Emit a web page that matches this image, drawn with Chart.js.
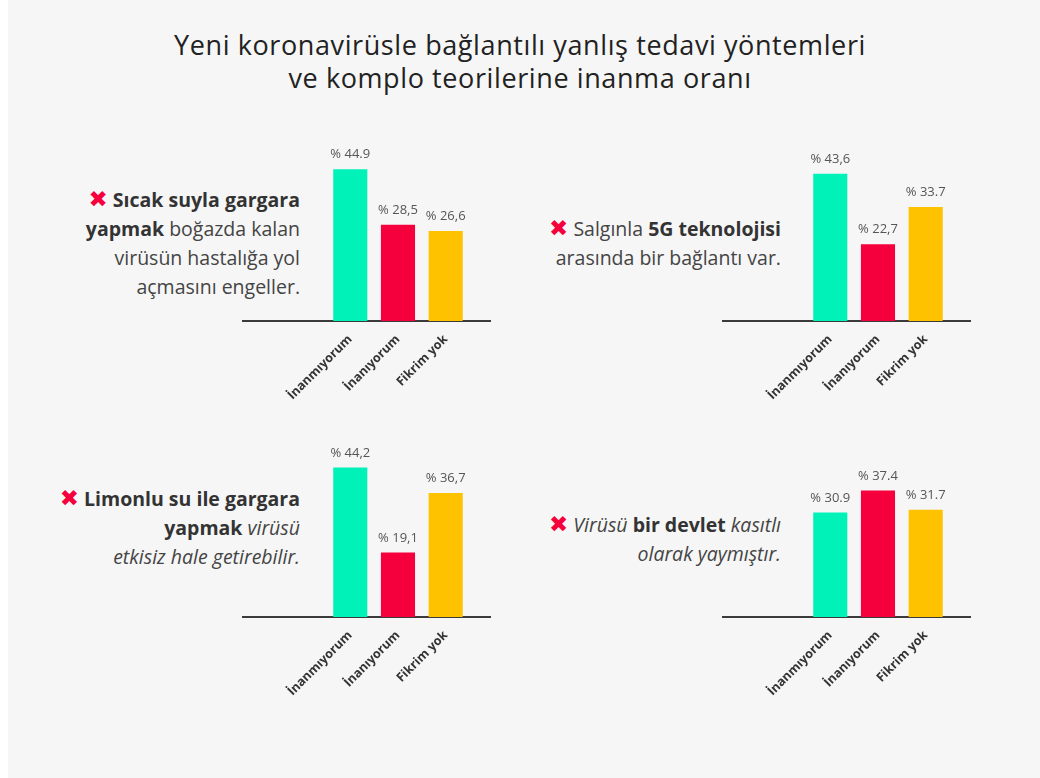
<!DOCTYPE html>
<html><head><meta charset="utf-8">
<script src="https://cdn.jsdelivr.net/npm/chart.js@4.4.0/dist/chart.umd.min.js"></script>
<style>
html,body{margin:0;padding:0;}
body{width:1040px;height:778px;background:#f6f6f6;position:relative;overflow:hidden;font-family:"Open Sans",sans-serif;}
#edge{position:absolute;left:0;top:0;width:8px;height:778px;background:#fff;}
#title{position:absolute;left:0;width:1040px;top:28px;text-align:center;font-family:"Open Sans",sans-serif;font-size:27px;line-height:33px;color:#222;letter-spacing:0.6px;}
.stmt{position:absolute;text-align:right;font-size:19.5px;line-height:29px;color:#444;white-space:nowrap;}
.stmt b{color:#333;font-weight:700}
.x{color:#f5003d;font-family:"DejaVu Sans";font-weight:bold;font-style:normal;font-size:23px;line-height:20px;}
canvas{position:absolute;}
</style></head>
<body>
<div id="edge"></div>
<div id="title">Yeni koronavirüsle bağlantılı yanlış tedavi yöntemleri<br>ve komplo teorilerine inanma oranı</div>

<div class="stmt" style="right:740px;top:185px"><span class="x">✖</span> <b>Sıcak suyla gargara</b><br><b>yapmak</b> boğazda kalan<br>virüsün hastalığa yol<br>açmasını engeller.</div>
<div class="stmt" style="right:259px;top:214px"><span class="x">✖</span> Salgınla <b>5G teknolojisi</b><br>arasında bir bağlantı var.</div>
<div class="stmt" style="right:740px;top:484px"><span class="x">✖</span> <b>Limonlu su ile gargara</b><br><b>yapmak</b> <i>virüsü</i><br><i>etkisiz hale getirebilir.</i></div>
<div class="stmt" style="right:259px;top:510px"><span class="x">✖</span> <i>Virüsü</i> <b>bir devlet</b> <i>kasıtlı</i><br><i>olarak yaymıştır.</i></div>

<canvas id="c1" width="249" height="269" style="left:242px;top:132px"></canvas>
<canvas id="c2" width="249" height="269" style="left:722px;top:132px"></canvas>
<canvas id="c3" width="249" height="269" style="left:242px;top:428px"></canvas>
<canvas id="c4" width="249" height="269" style="left:722px;top:428px"></canvas>

<script>
const categories = ['İnanmıyorum', 'İnanıyorum', 'Fikrim yok'];
const gargleHotValues = [44.9, 28.5, 26.6];
const gargleHotLabels = ['% 44.9', '% 28,5', '% 26,6'];
const fiveGValues = [43.6, 22.7, 33.7];
const fiveGLabels = ['% 43,6', '% 22,7', '% 33.7'];
const lemonValues = [44.2, 19.1, 36.7];
const lemonLabels = ['% 44,2', '% 19,1', '% 36,7'];
const stateValues = [30.9, 37.4, 31.7];
const stateLabels = ['% 30.9', '% 37.4', '% 31.7'];
const barColors = ['#00f2b8', '#f5003d', '#ffc200'];

const valueLabels = {
  id: 'valueLabels',
  afterDatasetsDraw(chart, args, opts) {
    const ctx = chart.ctx;
    const meta = chart.getDatasetMeta(0);
    ctx.save();
    ctx.font = '13px "Open Sans"';
    ctx.fillStyle = '#555';
    ctx.textAlign = 'center';
    ctx.textBaseline = 'bottom';
    meta.data.forEach((bar, i) => ctx.fillText(opts.labels[i], bar.x, bar.y - 8));
    ctx.restore();
  }
};

function makeChart(id, values, labels) {
  return new Chart(document.getElementById(id), {
    type: 'bar',
    data: {
      datasets: [{
        data: values.map((v, i) => ({ x: i, y: v })),
        backgroundColor: barColors,
        borderWidth: 0,
        barPercentage: 0.715,
        categoryPercentage: 1
      }]
    },
    options: {
      responsive: false,
      animation: false,
      layout: { padding: { top: 20, left: 0, right: 0, bottom: 0 } },
      plugins: { legend: { display: false }, tooltip: { enabled: false }, valueLabels: { labels } },
      scales: {
        x: {
          type: 'linear',
          min: -2.27,
          max: 2.95,
          offset: false,
          grid: { display: false, drawTicks: false },
          border: { display: true, color: '#3a3a3a', width: 2 },
          afterBuildTicks: s => { s.ticks = categories.map((c, i) => ({ value: i })); },
          afterFit: s => { s.height = 80; },
          ticks: {
            autoSkip: false,
            minRotation: 45,
            maxRotation: 45,
            padding: 11,
            color: '#333',
            font: { family: 'Open Sans', weight: 'bold', size: 12.5 },
            callback: v => categories[v]
          }
        },
        y: { display: false, min: 0, max: 50 }
      }
    },
    plugins: [valueLabels]
  });
}

makeChart('c1', gargleHotValues, gargleHotLabels);
makeChart('c2', fiveGValues, fiveGLabels);
makeChart('c3', lemonValues, lemonLabels);
makeChart('c4', stateValues, stateLabels);
</script>
</body></html>
